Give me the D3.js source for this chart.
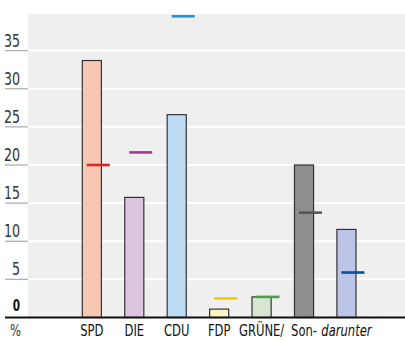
<!DOCTYPE html>
<html><head><meta charset="utf-8">
<script src="https://cdn.jsdelivr.net/npm/d3@7"></script>
<style>html,body{margin:0;padding:0;background:#fff;}svg{display:block;}</style>
</head><body>
<svg id="c" width="405" height="340"></svg>
<script>
const categories = ["SPD","DIE","CDU","FDP","GRÜNE/","Son-","darunter"];
const barValues = [33.7, 15.75, 26.6, 1.1, 2.7, 20.0, 11.55];
const markerValues = [20.0, 21.65, 39.5, 2.5, 2.7, 13.75, 5.9];
const barColors = ["#f6c8b4","#dcc4e1","#bddcf4","#fdf3c4","#d6e6d1","#8e8e8e","#bcc5e7"];
const markerColors = ["#e4232b","#9d3d95","#1f95d8","#f5c900","#4c9e4c","#555555","#0f4c9c"];
const italicLabels = [false,false,false,false,false,false,true];
const tickValues = [0,5,10,15,20,25,30,35];
const tickLabels = ["0","5","10","15","20","25","30","35"];

const svg = d3.select("#c");
const W = 405, plotLeft = 28, plotTop = 14, baseY = 317.5;
const FONT = "'Liberation Sans Narrow','DejaVu Sans Condensed',sans-serif";

const y = d3.scaleLinear().domain([0, 39.8]).range([baseY, plotTop]);
const x = d3.scaleBand().domain(categories).range([82.3, 356]).paddingInner(0.55).paddingOuter(0);

// background
svg.append("rect").attr("x", plotLeft).attr("y", plotTop).attr("width", W - plotLeft).attr("height", baseY - plotTop).attr("fill", "#efefef");

// gridlines & ticks
const g = svg.append("g");
tickValues.filter(v => v > 0).forEach(v => {
  g.append("line").attr("x1", plotLeft).attr("x2", W).attr("y1", y(v)).attr("y2", y(v)).attr("stroke", "#fff").attr("stroke-width", 2);
  g.append("line").attr("x1", 5).attr("x2", plotLeft).attr("y1", y(v)).attr("y2", y(v)).attr("stroke", "#b0b0b0").attr("stroke-width", 1.3);
});

// tick labels
tickValues.forEach((v, i) => {
  svg.append("text")
    .attr("transform", `translate(20,${y(v) - (v === 0 ? 7 : 4)}) scale(0.78,1)`)
    .attr("text-anchor", "end")
    .attr("font-family", FONT)
    .attr("font-size", v === 0 ? 15 : 18)
    .attr("font-weight", v === 0 ? "bold" : "normal")
    .attr("fill", v === 0 ? "#111" : "#333")
    .text(tickLabels[i]);
});

// bars
svg.append("g").selectAll("rect").data(categories).join("rect")
  .attr("x", d => x(d))
  .attr("y", (d, i) => y(barValues[i]))
  .attr("width", x.bandwidth())
  .attr("height", (d, i) => y(0) - y(barValues[i]))
  .attr("fill", (d, i) => barColors[i])
  .attr("stroke", "#333")
  .attr("stroke-width", 1.2);

// markers
svg.append("g").selectAll("line").data(categories).join("line")
  .attr("x1", d => x(d) + 4.5)
  .attr("x2", d => x(d) + 27.5)
  .attr("y1", (d, i) => y(markerValues[i]))
  .attr("y2", (d, i) => y(markerValues[i]))
  .attr("stroke", (d, i) => markerColors[i])
  .attr("stroke-width", 2.6);

// baseline
svg.append("line").attr("x1", 5).attr("x2", W).attr("y1", baseY).attr("y2", baseY).attr("stroke", "#111").attr("stroke-width", 2);

// category labels
svg.append("g").selectAll("text").data(categories).join("text")
  .attr("transform", d => `translate(${x(d) + x.bandwidth() / 2},335.5) scale(0.78,1)`)
  .attr("text-anchor", "middle")
  .attr("font-family", FONT)
  .attr("font-size", 16.5)
  .attr("font-style", (d, i) => italicLabels[i] ? "italic" : "normal")
  .attr("fill", "#111")
  .text(d => d);

// unit
svg.append("text")
  .attr("transform", "translate(10,335.5) scale(0.78,1)")
  .attr("font-family", FONT)
  .attr("font-size", 16.5)
  .attr("fill", "#333")
  .text("%");
</script>
</body></html>
